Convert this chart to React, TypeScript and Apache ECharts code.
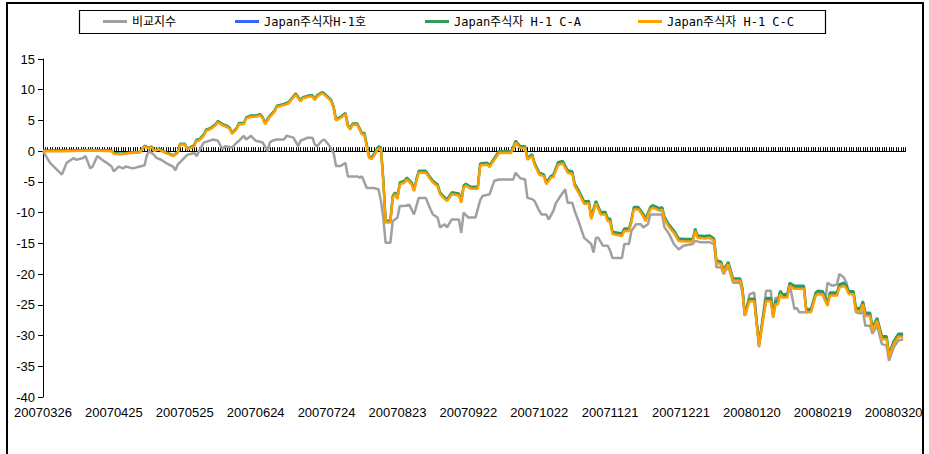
import React, { useEffect, useRef } from "react";
import * as echarts from "echarts";

// ---- axis domain: every calendar day from the first to the last plotted day
const firstDay = "20070326";
const lastDay = "20080325";

// ---- labels shown under the plot (every 30 days)
const tickLabels = [
  "20070326", "20070425", "20070525", "20070624", "20070724", "20070823", "20070922",
  "20071022", "20071121", "20071221", "20080120", "20080219", "20080320",
];

const seriesNames = ["비교지수", "Japan주식자H-1호", "Japan주식자 H-1 C-A", "Japan주식자 H-1 C-C"];

// ---- benchmark (비교지수): [date, value]
const benchmark: [string, number][] = [
  ["20070326", 0], ["20070329", -1.9], ["20070403", -3.8], ["20070405", -1.9], ["20070408", -1.1],
  ["20070409", -1.4], ["20070412", -1.1], ["20070413", -0.8], ["20070415", -2.8], ["20070416", -2.5],
  ["20070418", -0.8], ["20070420", -1.4], ["20070422", -1.9], ["20070424", -2.5], ["20070425", -3.3],
  ["20070427", -2.5], ["20070429", -2.8], ["20070430", -2.5], ["20070503", -2.8], ["20070506", -2.5],
  ["20070508", -2.3], ["20070509", -0.6], ["20070510", 0], ["20070512", -0.6], ["20070513", -1.1],
  ["20070515", -1.4], ["20070517", -1.9], ["20070520", -2.5], ["20070521", -3.1], ["20070522", -2.2],
  ["20070524", -1.4], ["20070526", -0.6], ["20070529", -0.3], ["20070530", -0.8], ["20070531", 0],
  ["20070602", 1.4], ["20070606", 1.9], ["20070608", 1.7], ["20070610", 0.3], ["20070611", 0.8],
  ["20070614", 0.6], ["20070616", 1.4], ["20070617", 1.7], ["20070619", 2.5], ["20070620", 1.9],
  ["20070622", 2.5], ["20070624", 1.7], ["20070627", 1.4], ["20070629", 0], ["20070630", 1.4],
  ["20070701", 1.7], ["20070703", 1.9], ["20070706", 1.9], ["20070707", 2.5], ["20070710", 2.2],
  ["20070712", 0.8], ["20070713", 1.7], ["20070716", 2.2], ["20070718", 2.2], ["20070719", 1.1],
  ["20070720", 0.8], ["20070722", 1.7], ["20070723", 1.9], ["20070725", 1.0], ["20070727", -0.3],
  ["20070728", -2.4], ["20070730", -2.4], ["20070801", -1.9], ["20070802", -4.1], ["20070806", -4.1],
  ["20070807", -4.3], ["20070808", -4.1], ["20070810", -6.0], ["20070813", -6.0], ["20070815", -6.2],
  ["20070816", -8.1], ["20070817", -10.8], ["20070818", -14.9], ["20070820", -14.9], ["20070821", -11.4],
  ["20070823", -10.8], ["20070824", -8.9], ["20070826", -8.9], ["20070828", -8.7], ["20070830", -10.3],
  ["20070901", -7.6], ["20070904", -7.6], ["20070906", -9.5], ["20070907", -10.3], ["20070909", -10.8],
  ["20070910", -12.4], ["20070912", -11.9], ["20070913", -12.4], ["20070915", -11.1], ["20070918", -11.1],
  ["20070919", -13.3], ["20070920", -10.0], ["20070922", -10.8], ["20070925", -10.8], ["20070927", -8.0],
  ["20070928", -7.3], ["20071001", -7.0], ["20071003", -4.8], ["20071005", -4.6], ["20071010", -4.6],
  ["20071011", -4.6], ["20071012", -3.5], ["20071014", -4.4], ["20071016", -4.6], ["20071017", -7.6],
  ["20071019", -7.8], ["20071020", -8.1], ["20071022", -9.7], ["20071023", -10.3], ["20071025", -10.3],
  ["20071026", -11.1], ["20071028", -9.7], ["20071029", -8.5], ["20071031", -7.3], ["20071102", -6.2],
  ["20071103", -8.4], ["20071105", -8.4], ["20071106", -9.7], ["20071108", -11.8], ["20071110", -14.1],
  ["20071113", -15.1], ["20071114", -16.5], ["20071115", -14.1], ["20071116", -14.1], ["20071118", -15.4],
  ["20071120", -15.4], ["20071121", -16.2], ["20071122", -17.4], ["20071126", -17.4], ["20071127", -15.1],
  ["20071129", -15.1], ["20071130", -13.0], ["20071202", -11.9], ["20071204", -11.9], ["20071205", -12.4],
  ["20071207", -11.9], ["20071208", -10.3], ["20071213", -10.3], ["20071214", -12.4], ["20071216", -13.5],
  ["20071218", -15.1], ["20071220", -16.0], ["20071222", -15.4], ["20071226", -15.1], ["20071227", -14.6],
  ["20071229", -14.8], ["20080102", -14.8], ["20080104", -15.1], ["20080105", -18.9], ["20080107", -18.9],
  ["20080108", -20.0], ["20080110", -18.7], ["20080112", -21.4], ["20080115", -21.4], ["20080116", -23.0],
  ["20080117", -26.8], ["20080119", -23.3], ["20080121", -23.0], ["20080123", -31.9], ["20080126", -22.7],
  ["20080128", -22.7], ["20080129", -26.8], ["20080130", -23.8], ["20080131", -24.2], ["20080201", -22.7],
  ["20080202", -23.3], ["20080204", -23.4], ["20080205", -21.6], ["20080207", -25.7], ["20080208", -25.5],
  ["20080209", -26.2], ["20080212", -26.2], ["20080214", -26.0], ["20080216", -23.3], ["20080219", -23.3],
  ["20080220", -24.4], ["20080221", -21.4], ["20080223", -21.9], ["20080225", -21.7], ["20080226", -20.0],
  ["20080228", -20.6], ["20080229", -21.4], ["20080301", -23.0], ["20080303", -23.0], ["20080304", -26.2],
  ["20080306", -26.4], ["20080307", -26.0], ["20080308", -28.4], ["20080310", -28.4], ["20080311", -29.7],
  ["20080313", -28.4], ["20080315", -31.4], ["20080317", -31.6], ["20080318", -34.1], ["20080320", -31.9],
  ["20080322", -30.8], ["20080324", -30.6],
];

// ---- fund sample dates (shared by the three fund classes)
const fundDates = [
  "20070326", "20070405", "20070415", "20070424", "20070425", "20070428", "20070502", "20070506", "20070508", "20070510",
  "20070511", "20070512", "20070514", "20070517", "20070519", "20070520", "20070522", "20070523", "20070525", "20070526",
  "20070528", "20070529", "20070530", "20070531", "20070602", "20070603", "20070605", "20070607", "20070608", "20070610",
  "20070612", "20070613", "20070614", "20070616", "20070617", "20070619", "20070620", "20070622", "20070624", "20070626",
  "20070627", "20070628", "20070630", "20070702", "20070703", "20070706", "20070708", "20070709", "20070711", "20070712",
  "20070713", "20070714", "20070717", "20070718", "20070719", "20070720", "20070722", "20070723", "20070725", "20070726",
  "20070727", "20070728", "20070730", "20070801", "20070802", "20070803", "20070804", "20070806", "20070807", "20070808",
  "20070809", "20070811", "20070812", "20070813", "20070815", "20070816", "20070817", "20070818", "20070820", "20070821",
  "20070822", "20070823", "20070824", "20070826", "20070827", "20070829", "20070830", "20070831", "20070901", "20070904",
  "20070906", "20070907", "20070909", "20070910", "20070912", "20070913", "20070915", "20070918", "20070919", "20070920",
  "20070921", "20070923", "20070926", "20070927", "20070930", "20071001", "20071003", "20071005", "20071010", "20071011",
  "20071012", "20071014", "20071016", "20071017", "20071019", "20071020", "20071022", "20071024", "20071025", "20071027",
  "20071028", "20071030", "20071101", "20071103", "20071105", "20071106", "20071108", "20071110", "20071112", "20071113",
  "20071115", "20071117", "20071119", "20071120", "20071121", "20071122", "20071126", "20071127", "20071129", "20071130",
  "20071201", "20071203", "20071205", "20071206", "20071208", "20071209", "20071212", "20071213", "20071214", "20071216",
  "20071218", "20071220", "20071223", "20071226", "20071227", "20071228", "20071231", "20080102", "20080104", "20080105",
  "20080107", "20080108", "20080110", "20080112", "20080115", "20080116", "20080117", "20080119", "20080121", "20080123",
  "20080126", "20080128", "20080129", "20080130", "20080131", "20080201", "20080202", "20080204", "20080205", "20080207",
  "20080211", "20080212", "20080214", "20080216", "20080217", "20080219", "20080221", "20080222", "20080225", "20080226",
  "20080228", "20080229", "20080301", "20080303", "20080304", "20080306", "20080307", "20080308", "20080310", "20080311",
  "20080313", "20080315", "20080317", "20080318", "20080320", "20080321", "20080322", "20080324",
];

// ---- Japan주식자H-1호
const fundH1 = [
  0.05, 0.05, 0.15, 0.05, -0.35, -0.45, -0.25, -0.15, 0.85, 0.45,
  0.75, 0.05, 0.35, -0.25, -0.55, -0.75, -0.25, 1.15, 1.15, 0.35,
  0.7, 0.9, 1.8, 1.8, 2.6, 3.4, 3.7, 4.3, 4.8, 4.3,
  4.0, 3.7, 2.9, 3.7, 4.5, 4.5, 5.4, 5.7, 5.7, 5.9,
  5.4, 4.5, 5.7, 6.5, 7.3, 7.6, 7.9, 8.4, 9.3, 8.7,
  8.2, 8.7, 9.0, 9.0, 8.4, 9.0, 9.5, 9.3, 8.6, 8.2,
  7.1, 5.1, 5.5, 6.1, 4.2, 3.6, 4.4, 4.4, 3.6, 2.8,
  2.85, -0.95, -1.15, -0.65, 0.65, 0.45, -4.75, -11.45, -11.45, -7.45,
  -6.85, -7.65, -5.25, -4.95, -4.45, -5.25, -6.35, -4.75, -3.35, -3.35,
  -4.45, -4.95, -5.55, -6.85, -7.65, -7.95, -6.85, -7.05, -8.25, -5.75,
  -5.45, -5.95, -5.95, -2.15, -2.05, -2.45, -1.25, -0.15, -0.15, 0.55,
  1.55, 0.65, 0.65, -1.25, -0.65, -2.05, -3.65, -3.95, -5.25, -4.15,
  -4.0, -2.0, -1.8, -3.3, -3.5, -5.5, -6.8, -8.4, -8.3, -10.9,
  -8.3, -10.1, -10.1, -11.2, -11.2, -13.3, -13.6, -12.8, -12.8, -11.4,
  -9.3, -9.3, -10.4, -11.2, -9.3, -9.0, -9.5, -9.3, -10.9, -12.2,
  -13.1, -14.4, -14.5, -14.5, -12.8, -13.9, -14.0, -13.9, -14.4, -18.0,
  -18.2, -19.5, -18.2, -20.9, -20.9, -22.5, -26.6, -24.2, -24.2, -31.5,
  -24.15, -24.15, -26.85, -24.65, -24.65, -23.05, -23.55, -23.55, -21.65, -22.15,
  -22.15, -25.95, -25.95, -23.25, -22.95, -23.05, -24.95, -23.25, -23.25, -21.95,
  -21.65, -22.15, -23.05, -23.05, -25.75, -25.75, -24.65, -26.55, -26.55, -28.95,
  -27.35, -30.35, -30.35, -33.25, -31.15, -30.55, -29.95, -29.95,
];

// ---- Japan주식자 H-1 C-A
const fundCA = [
  0.1, 0.1, 0.2, 0.1, -0.3, -0.4, -0.2, -0.1, 0.9, 0.5,
  0.8, 0.1, 0.4, -0.2, -0.5, -0.7, -0.2, 1.2, 1.2, 0.4,
  0.8, 1.0, 1.9, 1.9, 2.7, 3.5, 3.8, 4.4, 4.9, 4.4,
  4.1, 3.8, 3.0, 3.8, 4.6, 4.6, 5.5, 5.8, 5.8, 6.0,
  5.5, 4.6, 5.8, 6.6, 7.4, 7.7, 8.0, 8.5, 9.4, 8.8,
  8.3, 8.8, 9.1, 9.1, 8.5, 9.1, 9.6, 9.4, 8.7, 8.3,
  7.2, 5.2, 5.6, 6.2, 4.3, 3.7, 4.5, 4.5, 3.7, 2.9,
  3.0, -0.8, -1.0, -0.5, 0.8, 0.6, -4.6, -11.3, -11.3, -7.3,
  -6.7, -7.5, -5.1, -4.8, -4.3, -5.1, -6.2, -4.6, -3.2, -3.2,
  -4.3, -4.8, -5.4, -6.7, -7.5, -7.8, -6.7, -6.9, -8.1, -5.6,
  -5.3, -5.8, -5.8, -2.0, -1.9, -2.3, -1.1, 0.0, 0.0, 0.7,
  1.7, 0.8, 0.8, -1.1, -0.5, -1.9, -3.5, -3.8, -5.1, -4.0,
  -3.8, -1.8, -1.6, -3.1, -3.3, -5.3, -6.6, -8.2, -8.1, -10.7,
  -8.1, -9.9, -9.9, -11.0, -11.0, -13.1, -13.4, -12.6, -12.6, -11.2,
  -9.1, -9.1, -10.2, -11.0, -9.1, -8.8, -9.3, -9.1, -10.7, -12.0,
  -12.9, -14.2, -14.3, -14.3, -12.6, -13.7, -13.8, -13.7, -14.2, -17.8,
  -18.0, -19.3, -18.0, -20.7, -20.7, -22.3, -26.4, -24.0, -24.0, -31.3,
  -23.9, -23.9, -26.6, -24.4, -24.4, -22.8, -23.3, -23.3, -21.4, -21.9,
  -21.9, -25.7, -25.7, -23.0, -22.7, -22.8, -24.7, -23.0, -23.0, -21.7,
  -21.4, -21.9, -22.8, -22.8, -25.5, -25.5, -24.4, -26.3, -26.3, -28.7,
  -27.1, -30.1, -30.1, -33.0, -30.9, -30.3, -29.7, -29.7,
];

// ---- Japan주식자 H-1 C-C
const fundCC = [
  0, 0, 0.1, 0, -0.4, -0.5, -0.3, -0.2, 0.8, 0.4,
  0.7, 0, 0.3, -0.3, -0.6, -0.8, -0.3, 1.1, 1.1, 0.3,
  0.6, 0.8, 1.7, 1.7, 2.5, 3.3, 3.6, 4.2, 4.7, 4.2,
  3.9, 3.6, 2.8, 3.6, 4.4, 4.4, 5.3, 5.6, 5.6, 5.8,
  5.3, 4.4, 5.6, 6.4, 7.2, 7.5, 7.8, 8.3, 9.2, 8.6,
  8.1, 8.6, 8.9, 8.9, 8.3, 8.9, 9.4, 9.2, 8.5, 8.1,
  7.0, 5.0, 5.4, 6.0, 4.1, 3.5, 4.3, 4.3, 3.5, 2.7,
  2.7, -1.1, -1.3, -0.8, 0.5, 0.3, -4.9, -11.6, -11.6, -7.6,
  -7.0, -7.8, -5.4, -5.1, -4.6, -5.4, -6.5, -4.9, -3.5, -3.5,
  -4.6, -5.1, -5.7, -7.0, -7.8, -8.1, -7.0, -7.2, -8.4, -5.9,
  -5.6, -6.1, -6.1, -2.3, -2.2, -2.6, -1.4, -0.3, -0.3, 0.4,
  1.4, 0.5, 0.5, -1.4, -0.8, -2.2, -3.8, -4.1, -5.4, -4.3,
  -4.2, -2.2, -2.0, -3.5, -3.7, -5.7, -7.0, -8.6, -8.5, -11.1,
  -8.5, -10.3, -10.3, -11.4, -11.4, -13.5, -13.8, -13.0, -13.0, -11.6,
  -9.5, -9.5, -10.6, -11.4, -9.5, -9.2, -9.7, -9.5, -11.1, -12.4,
  -13.3, -14.6, -14.7, -14.7, -13.0, -14.1, -14.2, -14.1, -14.6, -18.2,
  -18.4, -19.7, -18.4, -21.1, -21.1, -22.7, -26.8, -24.4, -24.4, -31.7,
  -24.4, -24.4, -27.1, -24.9, -24.9, -23.3, -23.8, -23.8, -21.9, -22.4,
  -22.4, -26.2, -26.2, -23.5, -23.2, -23.3, -25.2, -23.5, -23.5, -22.2,
  -21.9, -22.4, -23.3, -23.3, -26.0, -26.0, -24.9, -26.8, -26.8, -29.2,
  -27.6, -30.6, -30.6, -33.5, -31.4, -30.8, -30.2, -30.2,
];

const seriesColors = ["#a0a0a0", "#3366ff", "#2e9a5e", "#ffa000"];

function ymd(d: Date) {
  const m = d.getUTCMonth() + 1;
  const day = d.getUTCDate();
  return `${d.getUTCFullYear()}${m < 10 ? "0" : ""}${m}${day < 10 ? "0" : ""}${day}`;
}
function parseYmd(s: string) {
  return Date.UTC(+s.slice(0, 4), +s.slice(4, 6) - 1, +s.slice(6, 8));
}
function buildCategories(): string[] {
  const out: string[] = [];
  const end = parseYmd(lastDay);
  for (let t = parseYmd(firstDay); t <= end; t += 86400000) out.push(ymd(new Date(t)));
  return out;
}

export default function App() {
  const ref = useRef<HTMLDivElement>(null);

  useEffect(() => {
    if (!ref.current) return;
    const chart = echarts.init(ref.current, undefined, { renderer: "svg" });
    const categories = buildCategories();
    const indexOf = new Map(categories.map((c, i) => [c, i] as [string, number]));
    const tickSet = new Set(tickLabels);

    const toPairs = (dates: string[], vals: number[]) =>
      dates
        .map((d, i) => [indexOf.get(d), vals[i]] as [number | undefined, number])
        .filter((p) => p[0] !== undefined && p[1] !== undefined);

    const benchData = toPairs(benchmark.map((b) => b[0]), benchmark.map((b) => b[1]));
    const fundSets = [fundH1, fundCA, fundCC].map((v) => toPairs(fundDates, v));

    const axisFont = "'Liberation Sans', Arial, sans-serif";
    const legendFont = "'DejaVu Sans Mono', 'Noto Sans CJK KR', monospace";
    const legendLefts = [103, 235, 425, 638];

    const mkLine = (name: string, color: string, data: any[], width: number, z: number) => ({
      name,
      type: "line",
      xAxisIndex: 0,
      data,
      showSymbol: false,
      symbol: "none",
      z,
      color,
      itemStyle: { color },
      lineStyle: { color, width },
      emphasis: { disabled: true },
    });

    chart.setOption({
      animation: false,
      backgroundColor: "#ffffff",
      graphic: [
        {
          type: "rect",
          shape: { x: 7, y: 3, width: 916, height: 470 },
          style: { fill: "none", stroke: "#000", lineWidth: 2 },
          silent: true,
        },
        {
          type: "rect",
          shape: { x: 79.5, y: 10.5, width: 746, height: 23 },
          style: { fill: "none", stroke: "#000", lineWidth: 1.2 },
          silent: true,
        },
      ],
      legend: seriesNames.map((n, i) => ({
        data: [{ name: n, icon: "rect" }],
        left: legendLefts[i],
        top: 15,
        padding: 0,
        itemWidth: 24,
        itemHeight: 3,
        itemGap: 0,
        selectedMode: false,
        textStyle: { fontFamily: legendFont, fontSize: 12, color: "#000", lineHeight: 13 },
      })),
      grid: { left: 43, right: 23.5, top: 59, bottom: 57, containLabel: false },
      xAxis: [
        {
          type: "category",
          data: categories,
          boundaryGap: false,
          position: "bottom",
          axisLine: { show: true, onZero: true, lineStyle: { color: "#000", width: 1 } },
          axisTick: { show: true, interval: 0, inside: true, length: 4, lineStyle: { color: "#000", width: 1 } },
          axisLabel: { show: false },
          splitLine: { show: false },
        },
        {
          type: "category",
          data: categories,
          boundaryGap: false,
          position: "bottom",
          axisLine: { show: false, onZero: false },
          axisTick: { show: false },
          axisLabel: {
            interval: (_i: number, v: string) => tickSet.has(v),
            margin: 9,
            fontFamily: axisFont,
            fontSize: 13,
            color: "#000",
          },
          splitLine: { show: false },
        },
      ],
      yAxis: {
        type: "value",
        min: -40,
        max: 15,
        interval: 5,
        axisLine: { show: true, lineStyle: { color: "#000", width: 1 } },
        axisTick: { show: true, length: 5, lineStyle: { color: "#000" } },
        axisLabel: { margin: 8, fontFamily: axisFont, fontSize: 13, color: "#000" },
        splitLine: { show: false },
      },
      series: [
        mkLine(seriesNames[0], seriesColors[0], benchData, 2.5, 2),
        mkLine(seriesNames[1], seriesColors[1], fundSets[0], 2.2, 3),
        mkLine(seriesNames[2], seriesColors[2], fundSets[1], 2.5, 4),
        mkLine(seriesNames[3], seriesColors[3], fundSets[2], 2.5, 5),
      ],
    });

    return () => chart.dispose();
  }, []);

  return (
    <div
      ref={ref}
      style={{ position: "absolute", left: 0, top: 0, width: 929, height: 454 }}
    />
  );
}
